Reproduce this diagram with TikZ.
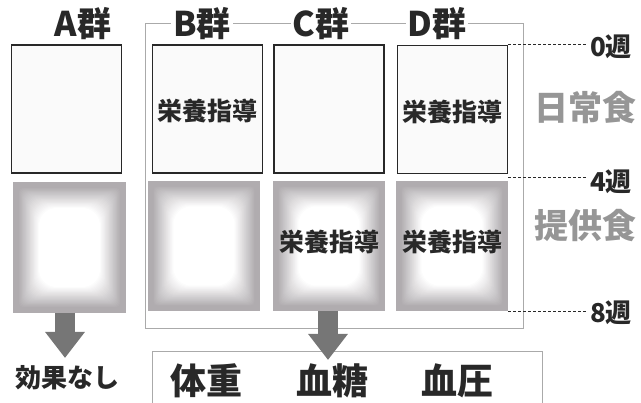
\documentclass[tikz,border=0pt]{standalone}
\usepackage{fontspec}
\setmainfont{Noto Sans CJK JP}
\usetikzlibrary{arrows.meta,calc}

\definecolor{ink}{RGB}{40,40,40}
\definecolor{mealgray}{RGB}{150,150,150}
\definecolor{framegray}{RGB}{170,170,170}
\definecolor{arrowgray}{RGB}{118,118,118}
\definecolor{fadegray}{RGB}{176,172,175}

\tikzset{
  topbox/.style={shape=rectangle,draw=ink,fill=black!2,line width=1.6pt,minimum width=110,minimum height=128,inner sep=0pt},
  foodbox/.style={shape=rectangle,draw=none,minimum width=112,minimum height=130,inner sep=0pt},
  grouplabel/.style={fill=white,text=ink,inner sep=2pt,font=\fontsize{34}{36}\selectfont\bfseries},
  guide/.style={text=ink,inner sep=1pt,font=\fontsize{25}{27}\selectfont\bfseries},
  meal/.style={text=mealgray,font=\fontsize{34}{36}\selectfont\bfseries},
  week/.style={text=ink,inner sep=2pt,font=\fontsize{26}{28}\selectfont\bfseries},
  weekline/.style={draw=ink,line width=1.2pt,dash pattern=on 3pt off 2pt},
  outcome/.style={text=ink,font=\fontsize{36}{38}\selectfont\bfseries},
  bigarrow/.style={draw=arrowgray,line width=20pt,-{Triangle[width=38pt,length=26pt]}}
}

\begin{document}
\begin{tikzpicture}[x=1pt,y=-1pt]
\useasboundingbox (0,0) rectangle (641,403);

% trial frame
\node[shape=rectangle,draw=framegray,line width=1pt,minimum width=378,minimum height=305] (trial) at (334,176.5) {};

% 0-4 weeks
\node[topbox] (a1) at (66.5,109) {};
\node[topbox] (b1) at (207.5,109) {};
\node[topbox] (c1) at (329,109) {};
\node[topbox] (d1) at (452.5,109.5) {};

% 4-8 weeks
\node[foodbox] (a2) at (69.5,247.5) {};
\node[foodbox] (b2) at (204,246) {};
\node[foodbox] (c2) at (329,246) {};
\node[foodbox] (d2) at (452,246) {};
\foreach \b in {a2,b2,c2,d2}{
  \foreach \k in {0,...,32}{
    \pgfmathsetmacro\p{\k<6 ? 100 : 100*(32-\k)/26}
    \pgfmathsetmacro\d{\k*0.8}
    \fill[fadegray!\p!white,rounded corners=\d*0.7] ($(\b.north west)+(\d,\d)$) rectangle ($(\b.south east)+(-\d,-\d)$);
  }
}

% group labels
\node[grouplabel] (la) at (83,24) {A群};
\node[grouplabel] (lb) at (202,24) {B群};
\node[grouplabel] (lc) at (321,24) {C群};
\node[grouplabel] (ld) at (437,24) {D群};

\node[guide] (gb) at ($(b1)+(0,2)$) {栄養指導};
\node[guide] (gd1) at ($(d1)+(0,2)$) {栄養指導};
\node[guide] (gc) at ($(c2)+(0,-4)$) {栄養指導};
\node[guide] (gd2) at ($(d2)+(0,-4)$) {栄養指導};

% weeks
\node[week] (w0) at (611,47) {0週};
\node[week] (w4) at (611,182) {4週};
\node[week] (w8) at (611,313) {8週};
\draw[weekline] (d1.north east) -- (d1.north east -| w0.west);
\coordinate (mid4) at ($(d1.south east)!0.5!(d2.north east)$);
\draw[weekline] (mid4) -- (mid4 -| w4.west);
\draw[weekline] (d2.south east) -- (d2.south east -| w8.west);

\node[meal] (usual) at (585,108) {日常食};
\node[meal] (given) at (585,226) {提供食};

% results
\node[shape=rectangle,draw=framegray,line width=1pt,minimum width=390,minimum height=62] (result) at (347,383) {};
\node[outcome] (weight) at (206,381) {体重};
\node[outcome] (sugar) at (332,381) {血糖};
\node[outcome] (pressure) at (457,381) {血圧};
\node[text=ink,font=\fontsize{26}{28}\selectfont\bfseries] (kouka) at (68,378) {効果なし};

\coordinate (atip) at (65,358);
\coordinate (ctip) at (328,360);
\draw[bigarrow] (a2.south -| atip) -- (atip);
\draw[bigarrow] (c2.south -| ctip) -- (ctip);
\end{tikzpicture}
\end{document}
